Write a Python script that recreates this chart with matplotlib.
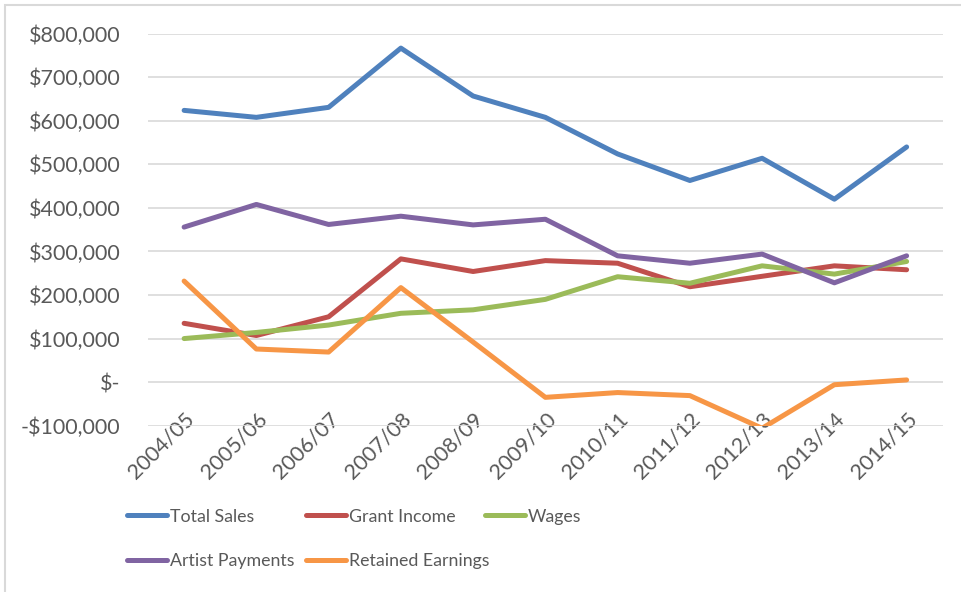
import numpy as np
import matplotlib
matplotlib.use("Agg")
import matplotlib.pyplot as plt
from matplotlib.ticker import FuncFormatter
from matplotlib.patches import Rectangle

# annual figures, in dollars
annees = ["2004/05", "2005/06", "2006/07", "2007/08", "2008/09", "2009/10",
          "2010/11", "2011/12", "2012/13", "2013/14", "2014/15"]
total_sales = [624000, 608000, 631000, 767000, 657000, 608000, 524000, 463000, 514000, 420000, 540000]
grant_income = [135000, 107000, 150000, 283000, 254000, 279000, 273000, 219000, 243000, 267000, 258000]
wages = [100000, 114000, 131000, 158000, 166000, 190000, 242000, 227000, 267000, 248000, 277000]
artist_payments = [356000, 408000, 362000, 381000, 361000, 374000, 290000, 273000, 294000, 228000, 290000]
retained_earnings = [232000, 76000, 69000, 217000, 92000, -35000, -24000, -31000, -106000, -6000, 5000]

series = [
    ("Total Sales", total_sales, "#4F81BD"),
    ("Grant Income", grant_income, "#C0504D"),
    ("Wages", wages, "#9BBB59"),
    ("Artist Payments", artist_payments, "#8064A2"),
    ("Retained Earnings", retained_earnings, "#F79646"),
]

plt.rcParams['font.family'] = ['Lato', 'DejaVu Sans']
gris = "#595959"
taille = 15.5
taille_leg = 12.8

fig = plt.figure(figsize=(9.61, 5.92), dpi=100)
ax = fig.add_axes([0.154, 0.281, 0.827, 0.662])

x = np.arange(len(annees))
lignes = {}
for nom, valeurs, couleur in series:
    lignes[nom], = ax.plot(x, valeurs, color=couleur, lw=3.6, label=nom,
                           solid_capstyle='round', solid_joinstyle='round')

ax.set_xlim(-0.5, len(annees) - 0.5)
ax.set_ylim(-100000, 800000)
ax.set_yticks(np.arange(-100000, 800001, 100000))

def format_dollar(v, pos):
    if v == 0:
        return "$-"
    if v < 0:
        return "-${:,.0f}".format(-v)
    return "${:,.0f}".format(v)

ax.yaxis.set_major_formatter(FuncFormatter(format_dollar))
ax.set_xticks(x)
ax.set_xticklabels(annees, rotation=45, ha='right', rotation_mode='anchor')

ax.grid(axis='y', color='#D9D9D9', lw=1.2)
ax.set_axisbelow(True)
for s in ax.spines.values():
    s.set_visible(False)
ax.tick_params(axis='both', length=0, labelsize=taille, colors=gris)
ax.tick_params(axis='x', pad=-12)
ax.tick_params(axis='y', pad=20)

# legende : trois colonnes de largeur fixe
colonnes = [["Total Sales", "Artist Payments"],
            ["Grant Income", "Retained Earnings"],
            ["Wages"]]
x0 = 127 / 961
dx = 179 / 961
for i, noms in enumerate(colonnes):
    leg = fig.legend([lignes[n] for n in noms], noms, ncol=1, frameon=False,
                     loc='upper left', bbox_to_anchor=(x0 + i * dx, 0.141),
                     fontsize=taille_leg, handlelength=2.25, handletextpad=0.17,
                     labelspacing=1.6, borderaxespad=0, borderpad=0)
    for t in leg.get_texts():
        t.set_color(gris)

# cadre du graphique
fig.patches.append(Rectangle((0.005, -0.01), 1.2, 1.0015, transform=fig.transFigure,
                             fill=False, edgecolor='#D9D9D9', lw=1.5))

fig.savefig("out.png", dpi=100)
